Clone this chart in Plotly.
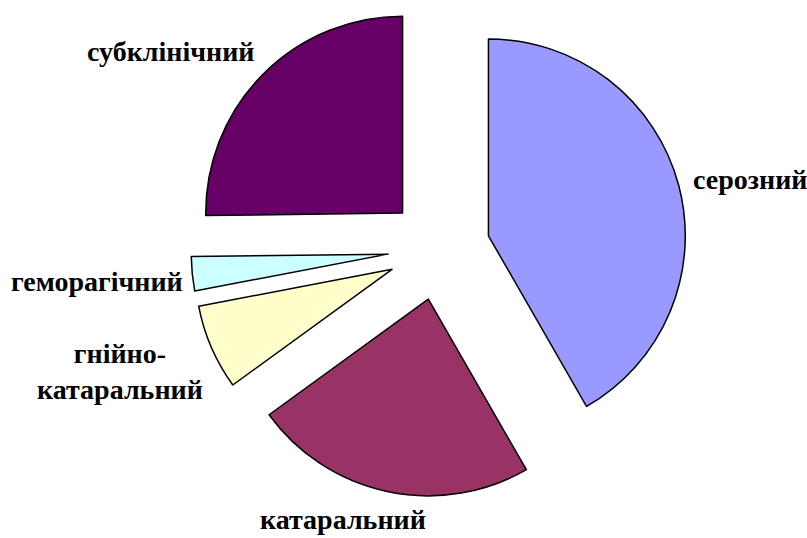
import plotly.graph_objects as go

# Data (percent shares)
categories = ["серозний", "катаральний", "гнійно-<br>катаральний", "геморагічний", "субклінічний"]
values = [41.7, 23.3, 7.0, 2.8, 25.2]
colors = ["#9999FF", "#993366", "#FFFFCC", "#CCFFFF", "#660066"]

W, H = 807, 538

# label anchor positions (pixel centres) for the category labels
label_px = [(750, 180), (343, 519), (120, 371), (97, 281), (170, 51)]

cx, cy, half = 439, 249, 248

fig = go.Figure(go.Pie(
    labels=categories,
    values=values,
    sort=False,
    direction="clockwise",
    rotation=0,
    pull=[0.26] * len(values),
    marker=dict(colors=colors, line=dict(color="black", width=1.5)),
    textinfo="none",
    hoverinfo="label+percent",
    showlegend=False,
    domain=dict(x=[(cx - half) / W, (cx + half) / W],
                y=[max(0, (H - cy - half) / H), min(1, (H - cy + half) / H)]),
))

for text, (px, py) in zip(categories, label_px):
    fig.add_annotation(
        x=px / W, y=1 - py / H, xref="paper", yref="paper",
        text="<b>" + text + "</b>", showarrow=False,
        font=dict(family="Liberation Serif", size=28, color="black"),
        xanchor="center", yanchor="middle", align="center",
    )

fig.update_layout(
    width=W, height=H,
    margin=dict(l=0, r=0, t=0, b=0),
    paper_bgcolor="white", plot_bgcolor="white",
)

fig.write_html("out.html",
               config={"displayModeBar": False},
               post_script="document.body.style.margin='0';document.body.style.overflow='hidden';")
